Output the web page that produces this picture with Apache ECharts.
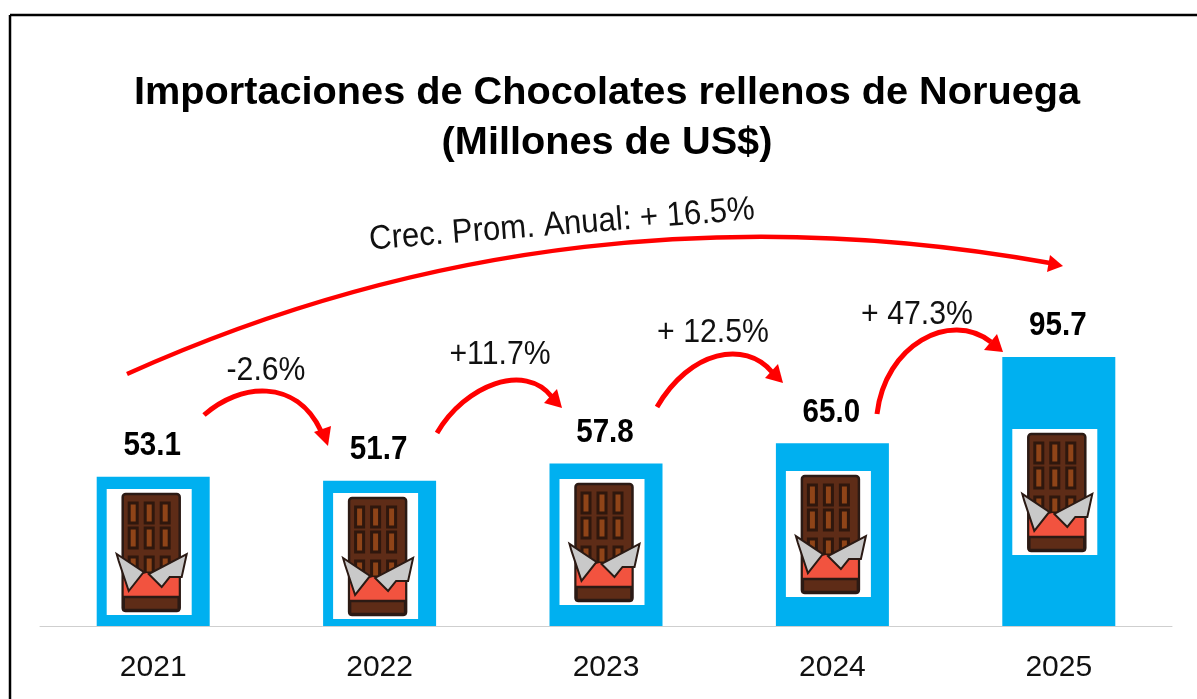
<!DOCTYPE html>
<html>
<head>
<meta charset="utf-8">
<title>Importaciones de Chocolates rellenos de Noruega</title>
<script src="https://cdn.jsdelivr.net/npm/echarts@6/dist/echarts.min.js"></script>
<style>
html, body { margin: 0; padding: 0; background: #fff; }
#main { width: 1197px; height: 699px; filter: blur(0.6px); }
</style>
</head>
<body>
<div id="main"></div>
<script>
var years = ["2021", "2022", "2023", "2024", "2025"];
var imports = [53.1, 51.7, 57.8, 65.0, 95.7];
// base of the white picture box inside each bar, in axis units
var iconBase = [3.9, 2.5, 7.5, 10.3, 25.3];
var growthLabels = ["-2.6%", "+11.7%", "+ 12.5%", "+ 47.3%"];
var cagrLabel = "Crec. Prom. Anual: + 16.5%";

var SANS = "'Liberation Sans', Arial, sans-serif";
var RED = "#ff0000";
var INK = "#111";

// where the growth texts sit
var growthPos = [[266, 371], [500, 355], [713, 333], [917, 315]];

// arrows: p = start, c1, c2, end of the curve; h = arrow head
var arrows = [
	{ p: [204, 415, 240, 383, 296, 378, 321, 431], h: [328, 446, 314, 432, 331, 426], w: 5 },
	{ p: [437, 433, 465, 385, 525, 362, 552, 397], h: [562, 408, 544, 403, 557, 389], w: 5 },
	{ p: [657, 407, 690, 350, 745, 340, 772, 372], h: [783, 383, 765, 378, 778, 364], w: 5 },
	{ p: [877, 414, 885, 345, 950, 310, 991, 342], h: [1003, 352, 984, 350, 997, 334], w: 5 },
	{ p: [127, 374, 427, 239, 739, 207, 1050, 263], h: [1063, 266, 1050, 255, 1047, 272], w: 4.5 }
];

var buildGraphic = function(){
	var items = [
		{ type: "line", shape: { x1: 10, y1: 15, x2: 1197, y2: 15 }, style: { stroke: "#000", lineWidth: 2.5 } },
		{ type: "line", shape: { x1: 10, y1: 15, x2: 10, y2: 699 }, style: { stroke: "#000", lineWidth: 2.5 } }
	];
	for (var i = 0; i < arrows.length; i++) {
		var a = arrows[i];
		items.push({
			type: "bezierCurve",
			shape: { x1: a.p[0], y1: a.p[1], cpx1: a.p[2], cpy1: a.p[3], cpx2: a.p[4], cpy2: a.p[5], x2: a.p[6], y2: a.p[7] },
			style: { stroke: RED, lineWidth: a.w, fill: null }
		});
		items.push({
			type: "polygon",
			shape: { points: [[a.h[0], a.h[1]], [a.h[2], a.h[3]], [a.h[4], a.h[5]]] },
			style: { fill: RED }
		});
	}
	for (var j = 0; j < growthLabels.length; j++) {
		items.push({
			type: "text",
			x: growthPos[j][0],
			y: growthPos[j][1],
			scaleX: 0.89,
			style: { text: growthLabels[j], font: "34px " + SANS, fill: INK, align: "center", verticalAlign: "middle" }
		});
	}
	items.push({
		type: "text",
		x: 562,
		y: 225,
		rotation: 4.5 * Math.PI / 180,
		scaleX: 0.915,
		style: { text: cagrLabel, font: "34px " + SANS, fill: INK, align: "center", verticalAlign: "middle" }
	});
	return items;
};

// chocolate bar picture, local coordinates inside an 85x126 box
var chocolateIcon = function(x, y){
	var ink = "#2b1a14";
	var kids = [
		{ type: "rect", shape: { x: 0, y: 0, width: 85, height: 126 }, style: { fill: "#fff" } },
		{ type: "rect", shape: { x: 16, y: 5, width: 57, height: 117, r: 3 }, style: { fill: "#5e2c17", stroke: ink, lineWidth: 2.5 } }
	];
	var cols = [22.5, 38.5, 54.5];
	var rows = [14, 39, 68];
	for (var r = 0; r < rows.length; r++) {
		for (var c = 0; c < cols.length; c++) {
			kids.push({
				type: "rect",
				shape: { x: cols[c], y: rows[r], width: 8, height: r == 2 ? 16 : 20 },
				style: { fill: "#8f4418", stroke: "#2f170d", lineWidth: 3 }
			});
		}
	}
	kids.push({ type: "polygon", shape: { points: [[17, 90], [40, 84], [72, 84], [72, 109], [17, 109]] }, style: { fill: "#f2533f" } });
	kids.push({ type: "rect", shape: { x: 17, y: 108, width: 55, height: 13 }, style: { fill: "#5e2c17", stroke: ink, lineWidth: 2.5 } });
	kids.push({
		type: "polygon",
		shape: { points: [[10, 65], [37, 83], [22, 102], [12, 72]] },
		style: { fill: "#c9c9c9", stroke: ink, lineWidth: 2 }
	});
	kids.push({
		type: "polygon",
		shape: { points: [[80, 65], [42, 85], [55, 98], [63, 88], [75, 88]] },
		style: { fill: "#c9c9c9", stroke: ink, lineWidth: 2 }
	});
	return { type: "group", x: x, y: y, children: kids };
};

var chart = echarts.init(document.getElementById("main"), null, { renderer: "canvas" });

chart.setOption({
	animation: false,
	backgroundColor: "#fff",
	title: {
		text: "Importaciones de Chocolates rellenos de Noruega\n(Millones de US$)",
		left: 602,
		top: 63,
		textAlign: "center",
		textStyle: { fontFamily: SANS, fontWeight: "bold", fontSize: 39.7, lineHeight: 50, color: "#000" }
	},
	grid: { left: 40, width: 1132, top: 64, height: 562 },
	xAxis: {
		type: "category",
		data: years,
		axisTick: { show: false },
		axisLine: { lineStyle: { color: "#cfcfcf", width: 1 } },
		axisLabel: { fontFamily: SANS, fontSize: 30, color: INK, margin: 27 }
	},
	yAxis: { type: "value", min: 0, max: 200, show: false, splitLine: { show: false } },
	series: [
		{
			type: "bar",
			data: imports,
			barWidth: 113,
			itemStyle: { color: "#00b0f0" }
		},
		{
			// value labels as custom text so they can be condensed like the original
			type: "custom",
			data: imports.map(function(v, i){ return [i, v]; }),
			z: 6,
			renderItem: function(params, api){
				var pt = api.coord([api.value(0), api.value(1)]);
				return {
					type: "text",
					x: pt[0] - 1,
					y: pt[1] - 31,
					scaleX: 0.87,
					style: {
						text: api.value(1).toFixed(1),
						font: "bold 34px " + SANS,
						fill: "#000",
						align: "center",
						verticalAlign: "middle"
					}
				};
			}
		},
		{
			type: "custom",
			data: iconBase.map(function(v, i){ return [i, v]; }),
			z: 5,
			renderItem: function(params, api){
				var pt = api.coord([api.value(0), api.value(1)]);
				return chocolateIcon(pt[0] - 46.5, pt[1] - 126);
			}
		}
	],
	graphic: buildGraphic()
});
</script>
</body>
</html>
